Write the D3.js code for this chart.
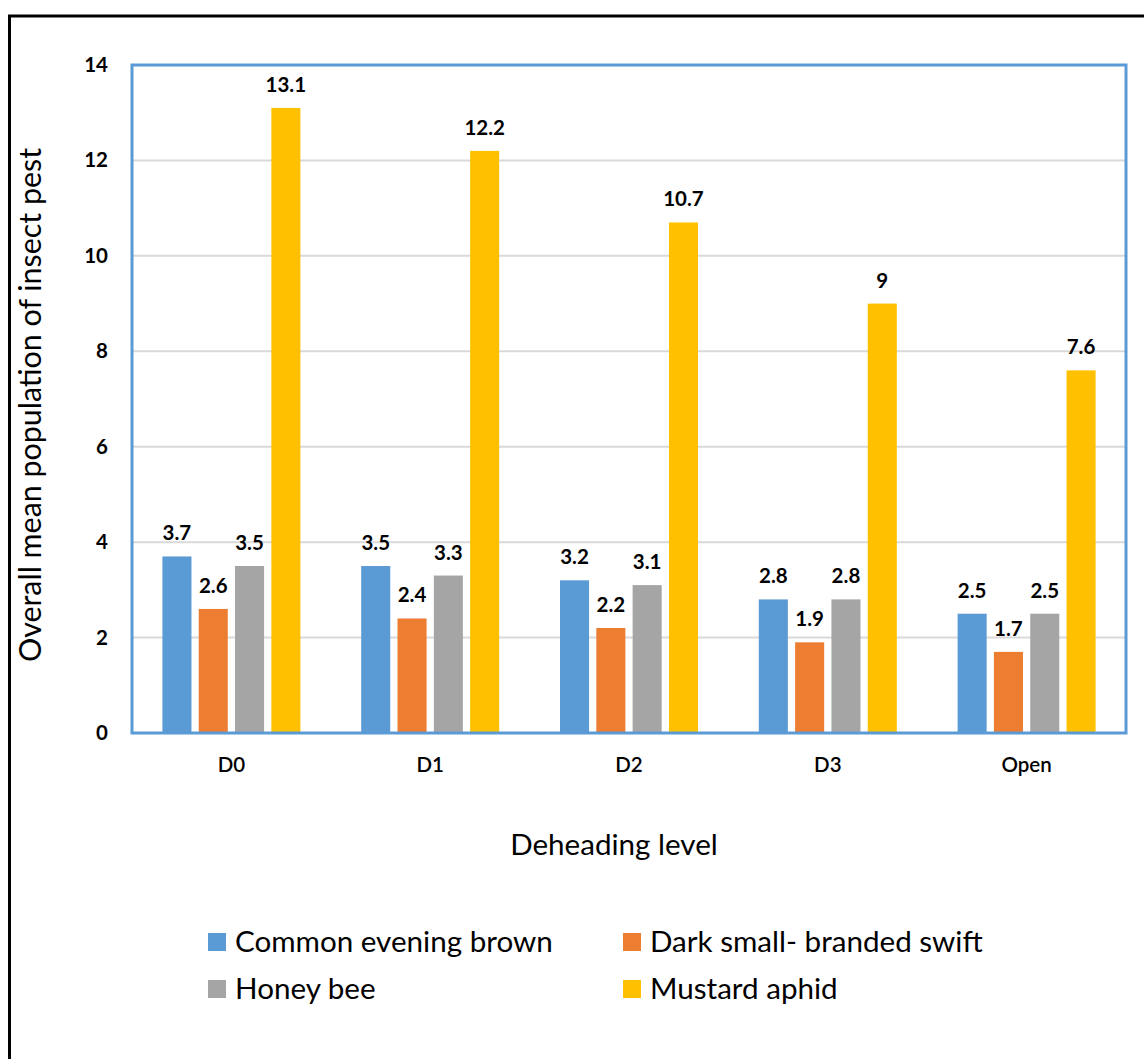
<!DOCTYPE html>
<html>
<head>
<meta charset="utf-8">
<script src="https://cdn.jsdelivr.net/npm/d3@7/dist/d3.min.js"></script>
<style>
  html, body { margin: 0; padding: 0; background: #fff; }
  svg { display: block; }
  text { font-family: Lato, "Open Sans", "Liberation Sans", sans-serif; fill: #000; }
</style>
</head>
<body>
<svg id="chart" width="1144" height="1059"></svg>
<script>
// Deheading levels and insect populations per series
const categories = ["D0", "D1", "D2", "D3", "Open"];
const seriesNames = ["Common evening brown", "Dark small- branded swift", "Honey bee", "Mustard aphid"];
const commonEveningBrown = [3.7, 3.5, 3.2, 2.8, 2.5];
const darkSmallBrandedSwift = [2.6, 2.4, 2.2, 1.9, 1.7];
const honeyBee = [3.5, 3.3, 3.1, 2.8, 2.5];
const mustardAphid = [13.1, 12.2, 10.7, 9, 7.6];
const yTicks = [0, 2, 4, 6, 8, 10, 12, 14];
const seriesColors = ["#5b9bd5", "#ed7d31", "#a5a5a5", "#ffc000"];

const seriesValues = [commonEveningBrown, darkSmallBrandedSwift, honeyBee, mustardAphid];
const rows = categories.map((c, i) => ({
  category: c,
  values: seriesNames.map((s, j) => ({ series: s, idx: j, value: seriesValues[j][i] }))
}));

const svg = d3.select("#chart");
const plot = { left: 132, right: 1126, top: 65, bottom: 733 };

// Outer frame
svg.append("rect")
  .attr("x", 9.5).attr("y", 16)
  .attr("width", 1160).attr("height", 1080)
  .attr("fill", "none").attr("stroke", "#000").attr("stroke-width", 3);

const y = d3.scaleLinear().domain([0, 14]).range([plot.bottom, plot.top]);
const x0 = d3.scaleBand().domain(categories).range([plot.left, plot.right]).paddingInner(0).paddingOuter(0);
const groupPad = 30.4;
const x1 = d3.scaleBand().domain(seriesNames)
  .range([groupPad, x0.bandwidth() - groupPad]).paddingInner(0.2).paddingOuter(0);

// Gridlines
svg.append("g")
  .selectAll("line")
  .data(yTicks.filter(t => t > 0 && t < 14))
  .join("line")
  .attr("x1", plot.left).attr("x2", plot.right)
  .attr("y1", d => y(d)).attr("y2", d => y(d))
  .attr("stroke", "#d9d9d9").attr("stroke-width", 2);

// Bars
const groups = svg.append("g")
  .selectAll("g")
  .data(rows)
  .join("g")
  .attr("transform", d => `translate(${x0(d.category)},0)`);

groups.selectAll("rect")
  .data(d => d.values)
  .join("rect")
  .attr("x", d => x1(d.series))
  .attr("width", x1.bandwidth())
  .attr("y", d => y(d.value))
  .attr("height", d => y(0) - y(d.value))
  .attr("fill", d => seriesColors[d.idx]);

// Value labels
groups.selectAll("text")
  .data(d => d.values)
  .join("text")
  .attr("x", d => x1(d.series) + x1.bandwidth() / 2)
  .attr("y", d => y(d.value) - 16)
  .attr("text-anchor", "middle")
  .attr("font-size", 20.5)
  .attr("font-weight", 700)
  .text(d => d.value);

// Category axis baseline
svg.append("line")
  .attr("x1", plot.left).attr("x2", plot.right)
  .attr("y1", plot.bottom).attr("y2", plot.bottom)
  .attr("stroke", "#bcd2ea").attr("stroke-width", 2);

// Plot area border
svg.append("rect")
  .attr("x", plot.left).attr("y", plot.top)
  .attr("width", plot.right - plot.left).attr("height", plot.bottom - plot.top)
  .attr("fill", "none").attr("stroke", "#5b9bd5").attr("stroke-width", 3);

// Y axis tick labels
const yAxis = d3.axisLeft(y).tickValues(yTicks).tickSize(0).tickPadding(24).tickFormat(d3.format("d"));
const yg = svg.append("g").attr("transform", `translate(${plot.left},0)`).call(yAxis);
yg.select(".domain").remove();
yg.selectAll("text").attr("font-size", 20.5).attr("font-weight", 700)
  .attr("font-family", "Lato, 'Open Sans', sans-serif").attr("fill", "#000");

// X axis tick labels
const xAxis = d3.axisBottom(x0).tickSize(0).tickPadding(24);
const xg = svg.append("g").attr("transform", `translate(0,${plot.bottom})`).call(xAxis);
xg.select(".domain").remove();
xg.selectAll("text").attr("font-size", 20.5).attr("font-weight", 600)
  .attr("font-family", "Lato, 'Open Sans', sans-serif").attr("fill", "#000");

// Axis titles
svg.append("text")
  .attr("transform", "translate(41,405) rotate(-90)")
  .attr("text-anchor", "middle")
  .attr("font-size", 30.4)
  .text("Overall mean population of insect pest");

svg.append("text")
  .attr("x", 614).attr("y", 855)
  .attr("text-anchor", "middle")
  .attr("font-size", 29.6)
  .text("Deheading level");

// Legend
const legendPos = [
  { x: 208, y: 942 }, { x: 623, y: 942 },
  { x: 208, y: 989 }, { x: 623, y: 989 }
];
const legend = svg.append("g")
  .selectAll("g")
  .data(seriesNames)
  .join("g")
  .attr("transform", (d, i) => `translate(${legendPos[i].x},${legendPos[i].y})`);
legend.append("rect")
  .attr("x", 0).attr("y", -9).attr("width", 18).attr("height", 18)
  .attr("fill", (d, i) => seriesColors[i]);
legend.append("text")
  .attr("x", 27).attr("y", 10)
  .attr("font-size", 29.6)
  .text(d => d);
</script>
</body>
</html>
